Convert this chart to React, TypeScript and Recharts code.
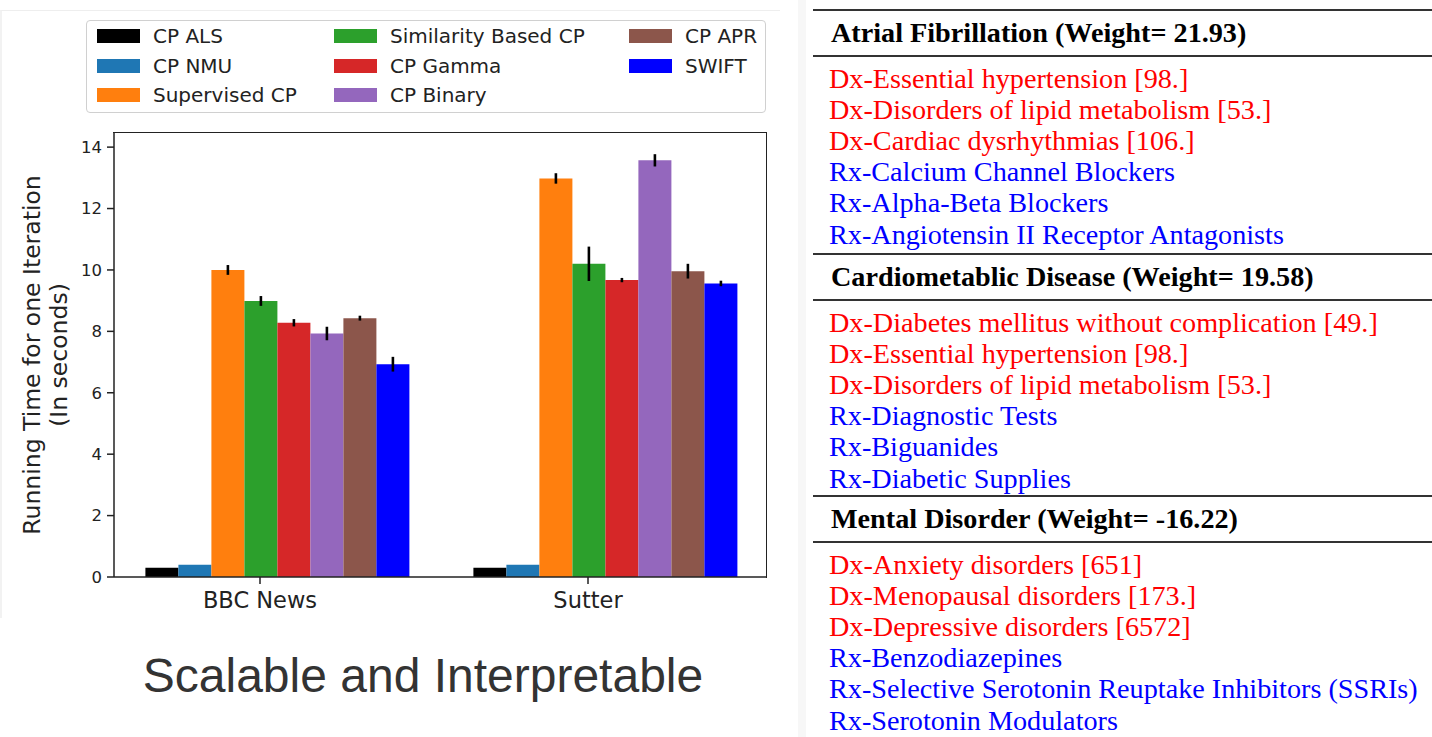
import React from 'react';
import { Bar, BarChart, ErrorBar, XAxis, YAxis } from 'recharts';

const datasets = ['BBC News', 'Sutter'];
const methods = ['CP ALS', 'CP NMU', 'Supervised CP', 'Similarity Based CP', 'CP Gamma', 'CP Binary', 'CP APR', 'SWIFT'];
const methodColors = ['#000000', '#1f77b4', '#ff7f0e', '#2ca02c', '#d62728', '#9467bd', '#8c564b', '#0000ff'];

const bbcTimes = [0.3, 0.4, 10.0, 8.99, 8.28, 7.93, 8.43, 6.93];
const bbcErrors = [0, 0, 0.16, 0.16, 0.12, 0.22, 0.08, 0.24];
const sutterTimes = [0.3, 0.4, 12.98, 10.2, 9.67, 13.57, 9.96, 9.56];
const sutterErrors = [0, 0, 0.17, 0.56, 0.07, 0.2, 0.24, 0.09];

const yTicks = [0, 2, 4, 6, 8, 10, 12, 14];

const sections = [
  {
    title: 'Atrial Fibrillation (Weight= 21.93)',
    dx: ['Dx-Essential hypertension [98.]', 'Dx-Disorders of lipid metabolism [53.]', 'Dx-Cardiac dysrhythmias [106.]'],
    rx: ['Rx-Calcium Channel Blockers', 'Rx-Alpha-Beta Blockers', 'Rx-Angiotensin II Receptor Antagonists'],
  },
  {
    title: 'Cardiometablic Disease (Weight= 19.58)',
    dx: ['Dx-Diabetes mellitus without complication [49.]', 'Dx-Essential hypertension [98.]', 'Dx-Disorders of lipid metabolism [53.]'],
    rx: ['Rx-Diagnostic Tests', 'Rx-Biguanides', 'Rx-Diabetic Supplies'],
  },
  {
    title: 'Mental Disorder (Weight= -16.22)',
    dx: ['Dx-Anxiety disorders [651]', 'Dx-Menopausal disorders [173.]', 'Dx-Depressive disorders [6572]'],
    rx: ['Rx-Benzodiazepines', 'Rx-Selective Serotonin Reuptake Inhibitors (SSRIs)', 'Rx-Serotonin Modulators'],
  },
];

const timesByDataset = [bbcTimes, sutterTimes];
const errorsByDataset = [bbcErrors, sutterErrors];

// one row per dataset; "pad" is an empty slot so the tick sits on the 4th bar like matplotlib
const rows = datasets.map((name, d) => {
  const row: Record<string, number | string> = { name, pad: 0 };
  methods.forEach((m, i) => {
    row[m] = timesByDataset[d][i];
    row[m + '_err'] = errorsByDataset[d][i];
  });
  return row;
});

const font = '"DejaVu Sans", sans-serif';
const axisColor = '#222';

function LegendBox() {
  const cols = [methods.slice(0, 3), methods.slice(3, 6), methods.slice(6)];
  const colX = [10, 247, 542];
  return (
    <div style={{
      position: 'absolute', left: 86, top: 20, width: 680, height: 93, boxSizing: 'border-box',
      border: '1px solid #d0d0d0', borderRadius: 4, fontFamily: font, fontSize: 20, color: '#222',
    }}>
      {cols.map((col, c) => col.map((m, r) => (
        <div key={m} style={{ position: 'absolute', left: colX[c], top: 4 + r * 29.5, height: 22, display: 'flex', alignItems: 'center' }}>
          <span style={{ width: 43, height: 14, background: methodColors[methods.indexOf(m)], display: 'inline-block' }} />
          <span style={{ marginLeft: 13, whiteSpace: 'nowrap' }}>{m}</span>
        </div>
      )))}
    </div>
  );
}

function RunningTimeChart() {
  return (
    <div style={{ position: 'absolute', left: 0, top: 0 }}>
      <BarChart
        width={800}
        height={630}
        data={rows}
        margin={{ top: 133, right: 34, bottom: 0, left: 0 }}
        barCategoryGap="5%"
        barGap={0}
      >
        <XAxis
          dataKey="name"
          height={53}
          padding={{ left: -18, right: 14 }}
          tickSize={7}
          tickMargin={8}
          tick={{ fontSize: 22.5, fill: axisColor, fontFamily: font }}
          axisLine={{ stroke: axisColor, strokeWidth: 1.5 }}
          tickLine={{ stroke: axisColor, strokeWidth: 1.5 }}
        />
        <YAxis
          type="number"
          width={114}
          domain={[0, 14.46]}
          ticks={yTicks}
          allowDataOverflow
          tickSize={7}
          tickMargin={5}
          tick={{ fontSize: 16.5, fill: axisColor, fontFamily: font }}
          axisLine={{ stroke: axisColor, strokeWidth: 1.5 }}
          tickLine={{ stroke: axisColor, strokeWidth: 1.5 }}
        />
        <Bar dataKey="pad" fill="transparent" isAnimationActive={false} />
        {methods.map((m, i) => (
          <Bar key={m} dataKey={m} fill={methodColors[i]} isAnimationActive={false}>
            <ErrorBar dataKey={m + '_err'} width={0} stroke="#000" strokeWidth={2.6} direction="y" />
          </Bar>
        ))}
      </BarChart>
      {/* top and right spines */}
      <div style={{
        position: 'absolute', left: 113, top: 132, width: 654, height: 446, boxSizing: 'border-box',
        borderTop: '1.5px solid ' + axisColor, borderRight: '1.5px solid ' + axisColor, pointerEvents: 'none',
      }} />
      <div style={{
        position: 'absolute', left: 46 - 200, top: 355 - 27, width: 400, height: 54,
        transform: 'rotate(-90deg)', textAlign: 'center', fontFamily: font, fontSize: 23.5,
        lineHeight: '27px', color: axisColor,
      }}>
        Running Time for one Iteration<br />(In seconds)
      </div>
      <LegendBox />
    </div>
  );
}

function FeatureTable() {
  const rules: number[] = [];
  const lines: { text: string; y: number; color: string; bold: boolean }[] = [];
  const sectionTops = [10, 254, 496];
  sections.forEach((s, k) => {
    const top = sectionTops[k];
    rules.push(top, top + 46);
    lines.push({ text: s.title, y: top + 22, color: '#000', bold: true });
    s.dx.forEach((t, i) => lines.push({ text: t, y: top + 68 + i * 31.2, color: '#ff0000', bold: false }));
    s.rx.forEach((t, i) => lines.push({ text: t, y: top + 68 + (i + 3) * 31.2, color: '#0000ff', bold: false }));
  });
  return (
    <div style={{ position: 'absolute', left: 0, top: 0, fontFamily: '"Liberation Serif", "Times New Roman", serif', fontSize: 28.2 }}>
      {rules.map((y, i) => (
        <div key={i} style={{ position: 'absolute', left: 813, top: y - 1, width: 619, height: 2, background: '#333' }} />
      ))}
      {lines.map((l, i) => (
        <div key={i} style={{
          position: 'absolute', left: l.bold ? 831 : 829, top: l.y - 15.5, height: 31, lineHeight: '31px',
          whiteSpace: 'nowrap', color: l.color, fontWeight: l.bold ? 'bold' : 'normal',
        }}>{l.text}</div>
      ))}
    </div>
  );
}

export default function App() {
  return (
    <div style={{ position: 'absolute', left: 0, top: 0, width: 1432, height: 737, background: '#fff', overflow: 'hidden' }}>
      <div style={{ position: 'absolute', left: 0, top: 10, width: 778, height: 607, borderTop: '1px solid #eee', borderLeft: '2px solid #f2f2f2' }} />
      <div style={{ position: 'absolute', left: 798, top: 0, width: 8, height: 737, background: '#f7f7f7' }} />
      <RunningTimeChart />
      <div style={{
        position: 'absolute', left: 423 - 350, top: 650, width: 700, textAlign: 'center',
        fontFamily: '"Liberation Sans", Arial, sans-serif', fontSize: 48, lineHeight: '52px', color: '#333',
      }}>Scalable and Interpretable</div>
      <FeatureTable />
    </div>
  );
}
